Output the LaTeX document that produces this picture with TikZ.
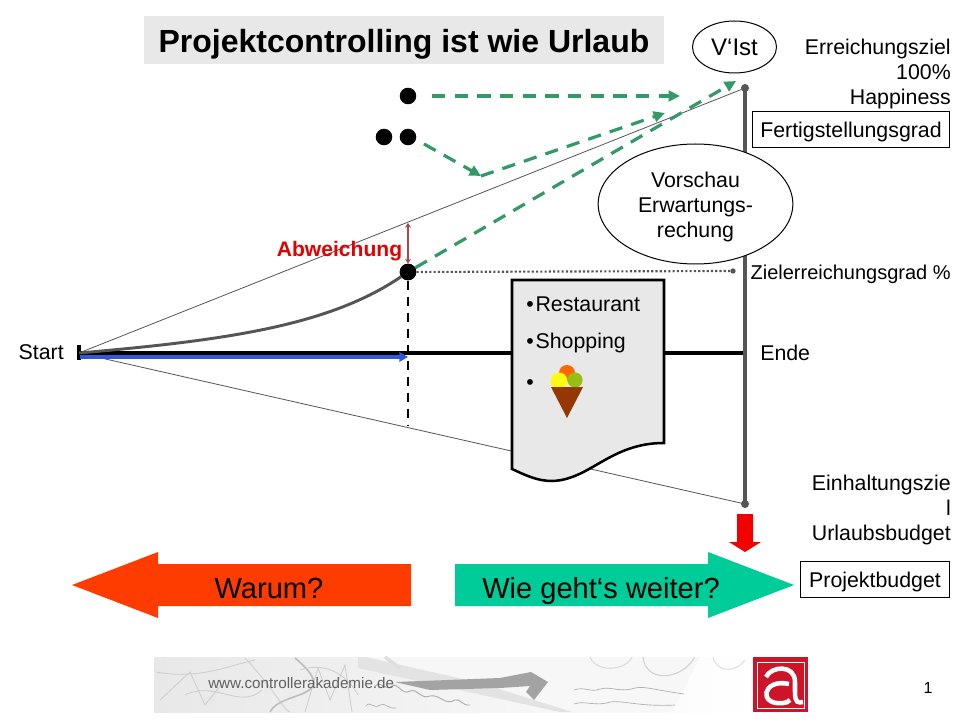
\documentclass[tikz,border=0pt]{standalone}
\usepackage{fontspec}
\setmainfont{Liberation Sans}
\usetikzlibrary{arrows.meta,shapes.geometric}
\definecolor{dgreen}{HTML}{339966}
\definecolor{lineg}{HTML}{555555}
\definecolor{arrgreen}{HTML}{00CC99}
\definecolor{arrred}{HTML}{FF3C00}
\definecolor{docg}{HTML}{E8E8E8}
\definecolor{bluea}{HTML}{2F58DC}
\definecolor{devred}{HTML}{AA4650}
\definecolor{logored}{HTML}{CD1428}
\tikzset{
 x=0.75pt,y=-0.75pt,
 lbl/.style={font=\fontsize{16pt}{18.8pt}\selectfont,align=center,inner sep=0pt},
 oneline/.style={text height=11.5pt,text depth=3.5pt},
 boxline/.style={text height=12.5pt,text depth=0.5pt},
 boxed/.style={draw=black,line width=0.75pt,fill=white,lbl,boxline},
 bubble/.style={draw=black,line width=0.75pt,fill=white,ellipse,lbl,inner sep=0pt},
 dot/.style={circle,fill=black,inner sep=0pt,minimum size=12.4pt},
 gdash/.style={dgreen,line width=2.4pt,dash pattern=on 10pt off 7pt},
 ghead/.style={-{Triangle[length=8.5pt,width=8pt]}},
 thin1/.style={draw=lineg,line width=0.6pt},
 bigtext/.style={font=\fontsize{21.8pt}{26pt}\selectfont,inner sep=0pt,text height=16pt,text depth=5pt},
 scrib/.style={draw=black!20,line width=0.6pt},
 scribd/.style={draw=black!32,line width=0.5pt},
}
\begin{document}
\begin{tikzpicture}
\useasboundingbox (0,0) rectangle (960,720);
\fill[white] (0,0) rectangle (960,720);
% title
\node[fill=docg,minimum width=390pt,minimum height=36pt,inner sep=0pt,text height=20pt,text depth=0.5pt,font=\bfseries\fontsize{24pt}{30pt}\selectfont] (title) at (404,40) {Projektcontrolling ist wie Urlaub};
% coordinates
\coordinate (start) at (79,353);
\coordinate (top) at (745,88);
\coordinate (bot) at (745,504);
\coordinate (endl) at (745,353);
\node[dot] (p0) at (408,272) {};
\node[dot] (p1) at (408,96) {};
\node[dot] (p2) at (408,137) {};
\node[dot] (p3) at (384,137) {};
\coordinate (abw) at (408,223);
\coordinate (bend) at (481,176);
\coordinate (z1) at (680,96);
\coordinate (z2) at (665,113);
\coordinate (z3) at (736,81);
\coordinate (zdot) at (733,271);
\coordinate (dashend) at (408,425);
\coordinate (bluee) at (408,357);
\coordinate (blues) at (80,357);
% thin cone
\draw[thin1] (start) -- (top);
\draw[thin1] (start) -- (bot);
% axis
\draw[line width=2.6pt] (start) -- (endl);
\draw[line width=2.6pt] (79,345) -- (79,360);
% vertical bar
\draw[lineg,line width=3pt] (top) -- (bot);
\fill[lineg] (top) circle (3pt);
\fill[lineg] (bot) circle (3pt);
% blue arrow
\draw[bluea,line width=2.6pt,-{Triangle[length=6.5pt,width=7pt]}] (blues) -- (bluee);
% curve
\draw[lineg,line width=2.2pt] (start) .. controls (230,340) and (330,325) .. (p0);
% dashed vert
\draw[line width=1.9pt,dash pattern=on 7pt off 5pt] (p0) -- (dashend);
% dotted
\draw[lineg,line width=1.6pt,dash pattern=on 1.6pt off 1.6pt] (p0) -- (zdot);
\fill[lineg] (zdot) circle (2pt);
% green dashed
\draw[gdash,ghead] (432,96) -- (z1);
\draw[gdash,ghead] (424,144) -- (bend);
\draw[gdash,ghead] (bend) -- (z2);
\draw[gdash,ghead] (p0) -- (z3);
% deviation
\draw[devred,line width=1.6pt,{Stealth[length=3.5pt,width=4.5pt]}-{Stealth[length=3.5pt,width=4.5pt]}] (abw) -- (p0.north);
\node[dot] at (p0) {};
\node[font=\bfseries\fontsize{15.8pt}{19pt}\selectfont,text=red!90!black,inner sep=0pt] (abwt) at (339.5,251) {Abweichung};
% doc
\draw[fill=docg,line width=1.9pt] (512,280) -- (664,280) -- (664,443) .. controls (610,443) and (590,480) .. (552,481) .. controls (537,481) and (525,475) .. (512,469) -- cycle;
\node[lbl,oneline,anchor=west] (r1) at (526,306) {•\hspace{1.4pt}Restaurant};
\node[lbl,oneline,anchor=west] (r2) at (526,343) {•\hspace{1.4pt}Shopping};
\node[lbl,oneline,anchor=west] (r3) at (526,384) {•};
% ice cream
\fill[color={rgb,255:red,255;green,102;blue,0}] (567,373) circle (6pt);
\fill[color={rgb,255:red,255;green,250;blue,20}] (559,381) circle (6.4pt);
\fill[color={rgb,255:red,150;green,190;blue,20}] (575,380) circle (5.7pt);
\fill[color={rgb,255:red,150;green,55;blue,0}] (551,387) -- (583,387) -- (567,418) -- cycle;
% texts
\node[lbl,oneline,anchor=east] (st) at (64,354) {Start};
\node[lbl,oneline,anchor=west] (en) at (760,355) {Ende};
\node[bubble,font=\fontsize{18pt}{21pt}\selectfont,minimum width=63pt,minimum height=39pt] (vist) at (734.5,47) {V‘Ist};
\node[lbl,anchor=north east,align=right] (ez) at (951,39) {Erreichungsziel\\100\%\\Happiness};
\node[boxed,minimum width=147.5pt,minimum height=27pt] (fg) at (851,130) {Fertigstellungsgrad};
\node[bubble,minimum width=146pt,minimum height=90pt] (vs) at (695.5,204) {};
\node[lbl] (vst) at (695.5,207) {Vorschau\\Erwartungs-\\rechung};
\node[lbl,oneline,font=\fontsize{15pt}{18pt}\selectfont,anchor=east] (zg) at (951,274) {Zielerreichungsgrad \%};
\node[lbl,align=right,anchor=north east] (eh) at (951,475) {Einhaltungszie\\l\\Urlaubsbudget};
\node[boxed,minimum width=112pt,minimum height=27pt] (pb) at (875,579) {Projektbudget};
\node[inner sep=0pt,font=\fontsize{12pt}{14pt}\selectfont] (pn) at (928,688) {1};
% red down arrow
\fill[red!95!black] (737,514) -- (753,514) -- (753,542) -- (761,542) -- (745,552) -- (729,542) -- (737,542) -- cycle;
% big arrows
\fill[arrred] (411,564) -- (158,564) -- (158,552) -- (72,585) -- (158,618) -- (158,606) -- (411,606) -- cycle;
\node[bigtext] (w) at (269,591) {Warum?};
\fill[arrgreen] (455,564) -- (708,564) -- (708,552) -- (794,585) -- (708,618) -- (708,606) -- (455,606) -- cycle;
\node[bigtext] (wg) at (601,591) {Wie geht‘s weiter?};
% banner
\shade[left color=black!9,right color=white] (154,657) rectangle (753,712);
\fill[black!3] (358,657) -- (700,657) -- (672,712) -- (572,712) -- cycle;
\fill[black!11] (358,657) -- (366,657) -- (480,683) -- (572,712) -- (560,712) -- (358,668) -- cycle;
\draw[black!13,line width=2.5pt] (385,657) -- (400,668) ;
% scribbles left
\draw[scrib] (156,672) .. controls (200,680) and (230,665) .. (255,660);
\draw[scrib] (160,700) -- (190,672) -- (205,705) -- (225,680);
\draw[scrib] (245,658) .. controls (275,690) and (285,712) .. (290,712);
\draw[black!26,line width=1.2pt] (270,712) .. controls (280,690) and (345,700) .. (295,658);
\draw[scrib] (305,712) -- (318,668) -- (330,700) -- (345,665) -- (352,712);
\draw[scrib] (300,670) .. controls (330,660) and (350,680) .. (358,695);
\draw[scrib] (185,695) .. controls (215,680) and (240,710) .. (262,690);
% arrow in banner
\fill[black!36] (395,682) -- (500,678) -- (531,672) -- (548,682) -- (534,700) -- (526,692) -- (530,686) -- (500,688) -- (430,690) -- cycle;
% handwriting
\draw[scribd,line width=0.7pt] (375,686) .. controls (382,680) and (386,692) .. (392,686) .. controls (398,682) and (402,696) .. (410,691) .. controls (418,688) and (420,700) .. (430,696) .. controls (440,694) and (445,706) .. (455,700) .. controls (460,698) and (462,706) .. (470,705);
\draw[scribd] (366,706) .. controls (370,700) and (374,710) .. (380,705) .. controls (385,702) and (390,710) .. (396,708);
% paper writing right
\draw[scribd,black!32] (574,690) .. controls (585,686) and (590,693) .. (600,689) .. controls (612,686) and (620,693) .. (635,688) .. controls (645,686) and (655,690) .. (684,694);
\draw[scribd,black!32] (574,704) .. controls (585,700) and (595,707) .. (610,702) .. controls (622,700) and (640,707) .. (675,705);
\draw[black!14,line width=0.8pt] (590,657) .. controls (595,672) and (625,672) .. (632,657);
\draw[black!18,line width=0.8pt] (643,657) .. controls (645,682) and (680,682) .. (695,657);
\draw[black!12,line width=0.8pt] (713,657) .. controls (716,672) and (735,674) .. (745,660);
\node[anchor=west,inner sep=0pt,text=black!62,font=\fontsize{11.4pt}{13pt}\selectfont] (url) at (208,683) {www.controllerakademie.de};
% logo
\fill[logored] (753,657) rectangle (808,712);
\draw[white,line width=0.7pt] (757,662) rectangle (804,708);
\draw[white,line width=3.4pt] (766,677) .. controls (771,666) and (795,664) .. (795,682) -- (795,692) .. controls (795,703) and (798,703) .. (803,702);
\draw[white,line width=3.4pt] (789,684) .. controls (762,678) and (758,706) .. (783,703) .. controls (786,703) and (788,702) .. (790,700);
\end{tikzpicture}
\end{document}
